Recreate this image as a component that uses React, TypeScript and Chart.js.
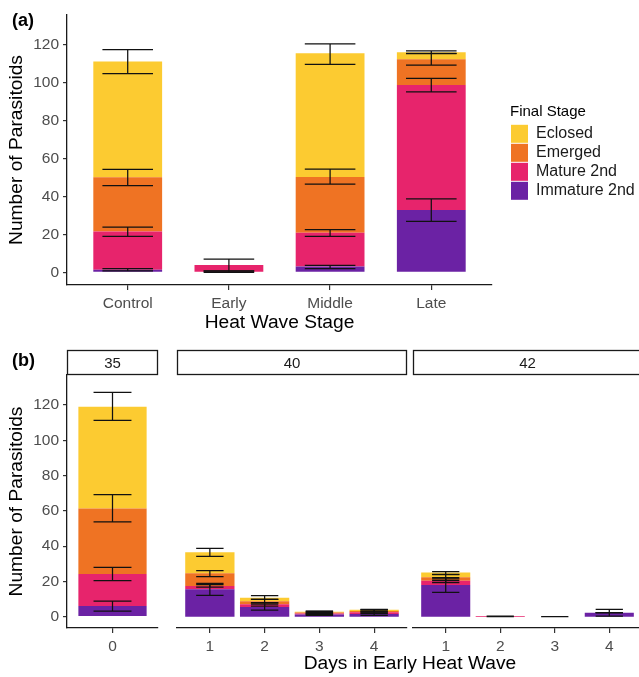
import React, { useEffect, useRef } from 'react';
import { Chart, registerables } from 'chart.js';

Chart.register(...registerables);

const FONT = "'Liberation Sans', Arial, Helvetica, sans-serif";
Chart.defaults.font.family = FONT;

// ---------- Panel (a) ----------
const stageLabels = ['Control', 'Early', 'Middle', 'Late'];
const stagePositions = [1, 2, 3, 4];
const seriesNames = ['Immature 2nd', 'Mature 2nd', 'Emerged', 'Eclosed'];
const seriesColors = ['#6B22A4', '#E7246C', '#EF7323', '#FCCB31'];

const immatureA = [1.4, 0.3, 3.0, 32.9];
const matureA = [20.1, 3.5, 17.9, 66.0];
const emergedA = [28.7, 0, 29.4, 13.5];
const eclosedA = [61.0, 0, 65.3, 3.8];

// error bars (cumulative [low, high])
const immatureErrA = [[0.8, 2.0], [0, 0.8], [2.0, 3.6], [26.9, 38.7]];
const matureErrA = [[18.9, 23.9], [0.6, 7.0], [19.0, 22.5], [95.2, 102.4]];
const emergedErrA = [[45.8, 54.3], null, [46.5, 54.4], [109.4, 115.4]];
const eclosedErrA = [[104.8, 117.5], null, [109.8, 120.5], [115.6, 116.9]];

// ---------- Panel (b) ----------
const facetLabels = ['35', '40', '42'];
const days35 = [0];
const days40 = [1, 2, 3, 4];
const days42 = [1, 2, 3, 4];

const immature35 = [6.1];
const mature35 = [18.1];
const emerged35 = [37.2];
const eclosed35 = [57.6];
const immatureErr35 = [[3.2, 8.9]];
const matureErr35 = [[20.4, 28.0]];
const emergedErr35 = [[53.7, 69.2]];
const eclosedErr35 = [[111.3, 127.2]];

const immature40 = [15.5, 5.5, 1.2, 1.5];
const mature40 = [1.9, 1.5, 0.6, 1.0];
const emerged40 = [7.2, 1.8, 0.6, 0.8];
const eclosed40 = [11.9, 2.0, 0.4, 0.7];
const immatureErr40 = [[12.1, 18.9], [3.8, 7.2], [0.8, 1.6], [0.8, 2.2]];
const matureErr40 = [[16.7, 18.2], [6.0, 8.0], [1.2, 2.4], [1.8, 3.2]];
const emergedErr40 = [[22.7, 26.1], [7.8, 9.8], [1.8, 3.0], [2.6, 4.0]];
const eclosedErr40 = [[34.2, 38.8], [9.8, 11.9], [2.2, 3.2], [3.2, 4.2]];

const immature42 = [18.0, 0, 0, 2.3];
const mature42 = [2.4, 0.4, 0, 0];
const emerged42 = [1.9, 0, 0, 0];
const eclosed42 = [2.7, 0, 0, 0];
const immatureErr42 = [[13.8, 22.2], null, [0, 0], [0.4, 4.2]];
const matureErr42 = [[19.3, 21.5], [0, 0.3], null, [2.3, 2.3]];
const emergedErr42 = [[20.5, 24.0], null, null, [2.3, 2.3]];
const eclosedErr42 = [[23.8, 25.5], null, null, [2.3, 2.3]];

// ---------- helpers ----------
const AXIS_COLOR = '#1a1a1a';
const TICK_COLOR = '#4d4d4d';
const TITLE_SIZE = 19.2;

function makeErrorBarPlugin(errors: any[][]) {
  return {
    id: 'errorBars',
    afterDatasetsDraw(chart: any) {
      const xs = chart.scales.x;
      const ys = chart.scales.y;
      const ctx = chart.ctx;
      ctx.save();
      ctx.strokeStyle = '#111';
      ctx.lineWidth = 1.25;
      errors.forEach((series, i) => {
        const data = chart.data.datasets[i].data;
        series.forEach((e: any, j: number) => {
          if (!e) return;
          const xv = data[j].x;
          const xc = xs.getPixelForValue(xv);
          const xl = xs.getPixelForValue(xv - 0.25);
          const xr = xs.getPixelForValue(xv + 0.25);
          const yl = ys.getPixelForValue(e[0]);
          const yh = ys.getPixelForValue(e[1]);
          ctx.beginPath();
          ctx.moveTo(xl, yh); ctx.lineTo(xr, yh);
          ctx.moveTo(xl, yl); ctx.lineTo(xr, yl);
          ctx.moveTo(xc, yh); ctx.lineTo(xc, yl);
          ctx.stroke();
        });
      });
      ctx.restore();
    },
  };
}

type TextItem = { text: string; x: number; y: number; font: string; color?: string; align?: CanvasTextAlign };

function makeTextPlugin(items: TextItem[]) {
  return {
    id: 'extraText',
    afterDraw(chart: any) {
      const ctx = chart.ctx;
      ctx.save();
      items.forEach((t) => {
        ctx.font = t.font;
        ctx.fillStyle = t.color || '#000';
        ctx.textAlign = t.align || 'left';
        ctx.textBaseline = 'middle';
        ctx.fillText(t.text, t.x, t.y);
      });
      ctx.restore();
    },
  };
}

function makeStripPlugin(label: string, top: number, bottom: number) {
  return {
    id: 'strip',
    afterDraw(chart: any) {
      const { left, right } = chart.chartArea;
      const ctx = chart.ctx;
      ctx.save();
      ctx.fillStyle = '#fff';
      ctx.fillRect(left, top, right - left, bottom - top);
      ctx.strokeStyle = '#1a1a1a';
      ctx.lineWidth = 1.3;
      ctx.strokeRect(left + 0.5, top + 0.5, right - left - 1, bottom - top - 1);
      ctx.fillStyle = '#1a1a1a';
      ctx.font = `15px ${FONT}`;
      ctx.textAlign = 'center';
      ctx.textBaseline = 'middle';
      ctx.fillText(label, (left + right) / 2, (top + bottom) / 2 + 1);
      ctx.restore();
    },
  };
}

function buildDatasets(positions: number[], series: number[][], barPct: number) {
  return seriesNames.map((name, i) => ({
    label: name,
    data: positions.map((x, j) => ({ x, y: series[i][j] })),
    backgroundColor: seriesColors[i],
    borderWidth: 0,
    barPercentage: barPct,
    categoryPercentage: 1,
  }));
}

function xScale(min: number, max: number, labels: (v: number) => string, height: number, title?: string) {
  return {
    type: 'linear',
    position: 'bottom',
    stacked: true,
    min,
    max,
    offset: false,
    ticks: {
      stepSize: 1,
      includeBounds: false,
      callback: (v: any) => labels(Number(v)),
      font: { size: 15.5 },
      color: TICK_COLOR,
      padding: 4,
      maxRotation: 0,
      autoSkip: false,
    },
    grid: { display: true, offset: false, drawOnChartArea: false, drawTicks: true, tickLength: 5, color: '#333', lineWidth: 1.2 },
    border: { display: true, color: AXIS_COLOR, width: 1.3 },
    title: title
      ? { display: true, text: title, font: { size: TITLE_SIZE }, color: '#000', padding: { top: 0, bottom: 5.8 } }
      : { display: false },
    afterFit: (s: any) => { s.height = height; },
  };
}

function yScale(min: number, max: number, show: boolean) {
  return {
    type: 'linear',
    stacked: true,
    display: show,
    min,
    max,
    ticks: { stepSize: 20, includeBounds: false, font: { size: 15.5 }, color: TICK_COLOR, padding: 4 },
    grid: { display: true, drawOnChartArea: false, drawTicks: true, tickLength: 4, color: '#333', lineWidth: 1.2 },
    border: { display: true, color: AXIS_COLOR, width: 1.3 },
    title: { display: true, text: 'Number of Parasitoids', font: { size: TITLE_SIZE }, color: '#000', padding: { top: 5.5, bottom: 0 } },
    afterFit: (s: any) => { if (show) s.width = 67; },
  };
}

function buildPanelA() {
  return {
    type: 'bar',
    data: { datasets: buildDatasets(stagePositions, [immatureA, matureA, emergedA, eclosedA], 0.68) },
    options: {
      responsive: false,
      animation: false,
      devicePixelRatio: 1,
      layout: { padding: { top: 15, left: 0, right: 0, bottom: 0 } },
      scales: {
        x: xScale(0.4, 4.6, (v) => stageLabels[stagePositions.indexOf(v)] ?? '', 55, 'Heat Wave Stage'),
        y: yScale(-6.7, 135.8, true),
        y2: {
          type: 'linear',
          position: 'right',
          display: true,
          grid: { display: false },
          ticks: { display: false },
          border: { display: false },
          afterFit: (s: any) => { s.width = 18; },
        },
      },
      plugins: {
        tooltip: { enabled: false },
        legend: {
          position: 'right',
          align: 'start',
          reverse: true,
          maxWidth: 129,
          labels: { boxWidth: 17, boxHeight: 18, padding: 1, font: { size: 16 }, color: '#1a1a1a' },
          title: { display: true, text: 'Final Stage', position: 'start', font: { size: 15 }, color: '#000', padding: { top: 89, bottom: 1.8 } },
        },
      },
    },
    plugins: [
      makeErrorBarPlugin([immatureErrA, matureErrA, emergedErrA, eclosedErrA]),
      makeTextPlugin([{ text: '(a)', x: 12, y: 21, font: `bold 18px ${FONT}` }]),
    ],
  };
}

function buildFacet(
  positions: number[],
  series: number[][],
  errors: any[][],
  xMin: number,
  xMax: number,
  barPct: number,
  showY: boolean,
  padLeft: number,
  padRight: number,
  strip: string,
  texts: TextItem[],
) {
  return {
    type: 'bar',
    data: { datasets: buildDatasets(positions, series, barPct) },
    options: {
      responsive: false,
      animation: false,
      devicePixelRatio: 1,
      layout: { padding: { top: 35, left: padLeft, right: padRight, bottom: 0 } },
      scales: {
        x: xScale(xMin, xMax, (v) => (positions.indexOf(v) >= 0 ? String(v) : ''), 49),
        y: yScale(-6.4, 137, showY),
      },
      plugins: { tooltip: { enabled: false }, legend: { display: false } },
    },
    plugins: [makeErrorBarPlugin(errors), makeStripPlugin(strip, 10, 35), makeTextPlugin(texts)],
  };
}

function ChartCanvas({ left, top, width, height, build }: any) {
  const ref = useRef<HTMLCanvasElement>(null);
  useEffect(() => {
    const chart = new Chart(ref.current as HTMLCanvasElement, build());
    return () => chart.destroy();
  }, []);
  return (
    <canvas
      ref={ref}
      width={width}
      height={height}
      style={{ position: 'absolute', left, top, width, height }}
    />
  );
}

export default function App() {
  return (
    <div
      style={{
        position: 'absolute',
        left: 0,
        top: 0,
        width: 639,
        height: 677,
        overflow: 'hidden',
        background: '#fff',
      }}
    >
      <ChartCanvas left={0} top={0} width={639} height={340} build={buildPanelA} />
      <ChartCanvas
        left={0}
        top={340}
        width={160}
        height={337}
        build={() =>
          buildFacet(
            days35,
            [immature35, mature35, emerged35, eclosed35],
            [immatureErr35, matureErr35, emergedErr35, eclosedErr35],
            -0.6, 0.6, 0.75, true, 0, 2, facetLabels[0],
            [{ text: '(b)', x: 12, y: 21, font: `bold 18px ${FONT}` }],
          )
        }
      />
      <ChartCanvas
        left={170}
        top={340}
        width={240}
        height={337}
        build={() =>
          buildFacet(
            days40,
            [immature40, mature40, emerged40, eclosed40],
            [immatureErr40, matureErr40, emergedErr40, eclosedErr40],
            0.4, 4.6, 0.9, false, 7, 3, facetLabels[1],
            [],
          )
        }
      />
      <ChartCanvas
        left={290}
        top={340}
        width={355}
        height={337}
        build={() =>
          buildFacet(
            days42,
            [immature42, mature42, emerged42, eclosed42],
            [immatureErr42, matureErr42, emergedErr42, eclosedErr42],
            0.4, 4.6, 0.9, false, 123, 3, facetLabels[2],
            [{ text: 'Days in Early Heat Wave', x: 120, y: 323.5, font: `${TITLE_SIZE}px ${FONT}`, align: 'center' }],
          )
        }
      />
    </div>
  );
}
